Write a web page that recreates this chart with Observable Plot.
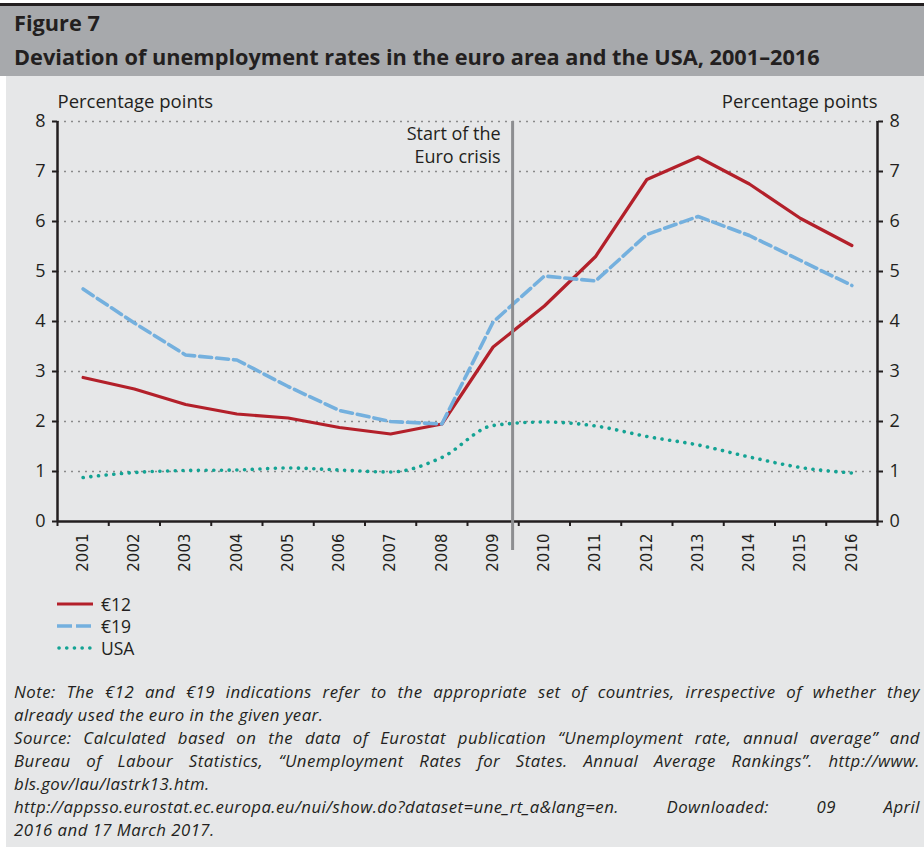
<!DOCTYPE html>
<html><head><meta charset="utf-8">
<script src="https://cdn.jsdelivr.net/npm/d3@7"></script>
<script src="https://cdn.jsdelivr.net/npm/@observablehq/plot@0.6"></script>
<style>
body{margin:0;background:#fff;width:924px;height:847px;overflow:hidden;font-family:"Open Sans",sans-serif;color:#231f20}
#hdr{position:absolute;left:0;top:3px;width:924px;height:70px;border-top:3px solid #231f20;background:#a7a9ac}
#hdr .f,#hdr .t{position:absolute;left:14px;font-weight:700;font-size:21px;white-space:nowrap;line-height:1}
#hdr .f{top:6px}
#hdr .t{top:40px}
#bg{position:absolute;left:6px;top:76px;right:0;bottom:0;background:#e6e7e8}
#chart{position:absolute;left:0;top:90px}
#legend{position:absolute;left:57px;top:593px;font-size:17.5px}
#legend .row{display:flex;align-items:center;height:22px}
#legend svg{margin-right:8px}
#note{position:absolute;left:14px;top:680px;width:906px;font-style:italic;font-size:16.8px}
#note div{height:23px;line-height:23px;white-space:nowrap}
#note span{white-space:nowrap}
</style>
</head><body>
<div id="hdr"><div class="f">Figure 7</div><div class="t">Deviation of unemployment rates in the euro area and the USA, 2001–2016</div></div>
<div id="bg"></div>
<div id="chart"></div>
<div id="legend"></div>
<div id="note">
<div class="j"><span>Note: The €12 and €19 indications refer to the appropriate set of countries, irrespective of whether they</span></div>
<div><span>already used the euro in the given year.</span></div>
<div class="j"><span>Source: Calculated based on the data of Eurostat publication “Unemployment rate, annual average” and</span></div>
<div class="j"><span>Bureau of Labour Statistics, “Unemployment Rates for States. Annual Average Rankings”. http://www.</span></div>
<div><span>bls.gov/lau/lastrk13.htm.</span></div>
<div class="j"><span>http://appsso.eurostat.ec.europa.eu/nui/show.do?dataset=une_rt_a&amp;lang=en. Downloaded: 09 April</span></div>
<div><span>2016 and 17 March 2017.</span></div>
</div>
<script>
const years = [2001,2002,2003,2004,2005,2006,2007,2008,2009,2010,2011,2012,2013,2014,2015,2016];
const euro12 = [2.88,2.65,2.34,2.15,2.07,1.88,1.75,1.95,3.49,4.31,5.30,6.84,7.29,6.75,6.06,5.52];
const euro19 = [4.65,3.97,3.33,3.23,2.70,2.22,2.00,1.95,3.99,4.91,4.81,5.74,6.10,5.72,5.22,4.72];
const usa    = [0.88,0.98,1.02,1.03,1.07,1.03,0.99,1.28,1.92,1.99,1.91,1.70,1.53,1.29,1.08,0.97];
const seriesNames = ["€12","€19","USA"];
const colors = ["#b3202a","#74b0de","#14a394"];
const yTicks = [0,1,2,3,4,5,6,7,8];
const crisisYear = [2009.38];
const crisisLabel = "Start of the\nEuro crisis";
const axisTitle = "Percentage points";

const lo = years[0]-0.5, hi = years[years.length-1]+0.5;
const bounds = d3.range(years.length+1).map(i => lo + i);
const rows = (vals, s) => years.map((y,i)=>({year:y, value:vals[i], series:s}));
const styles = [
  {stroke:colors[0], strokeWidth:3.2},
  {stroke:colors[1], strokeWidth:3.6, strokeDasharray:"12,5"},
  {stroke:colors[2], strokeWidth:3.6, strokeDasharray:"0.1,7.6", strokeLinecap:"round", curve:"monotone-x"}
];
const all = [euro12, euro19, usa];

const plot = Plot.plot({
  width: 924, height: 500,
  marginLeft: 57, marginRight: 47, marginTop: 31, marginBottom: 69,
  style: {background:"transparent", fontFamily:"'Open Sans', sans-serif", fontSize:"17px", color:"#231f20", overflow:"visible"},
  x: {type:"linear", domain:[lo, hi]},
  y: {domain:[0, 8]},
  marks: [
    Plot.ruleY(yTicks.slice(1), {x1:lo, x2:hi, stroke:"#8a8a8a", strokeWidth:1.3, strokeDasharray:"2,5"}),
    Plot.axisY({ticks:yTicks, anchor:"left", tickSize:5, tickPadding:7, label:null, strokeWidth:2, fontSize:18}),
    Plot.axisY({ticks:yTicks, anchor:"right", tickSize:5, tickPadding:7, label:null, strokeWidth:2, fontSize:18}),
    Plot.axisX({ticks:years, anchor:"bottom", tickSize:0, tickPadding:12, tickRotate:-90, tickFormat:d=>String(d), label:null, fontFamily:"DejaVu Sans", fontSize:15}),
    Plot.axisX({ticks:bounds, anchor:"bottom", tickSize:5, tickFormat:()=>"", label:null, strokeWidth:2}),
    Plot.ruleX([lo, hi], {y1:0, y2:8, stroke:"#231f20", strokeWidth:2.5}),
    Plot.ruleY([0], {x1:lo, x2:hi, stroke:"#231f20", strokeWidth:2.5}),
    ...all.map((vals,k) => Plot.line(rows(vals, seriesNames[k]), {x:"year", y:"value", ...styles[k]})),
    Plot.ruleX(crisisYear, {y1:-0.58, y2:8, stroke:"#8d8e91", strokeWidth:3}),
    Plot.text(crisisYear, {x:d=>d, y:8, text:()=>crisisLabel, textAnchor:"end", lineAnchor:"top", dx:-12, dy:3, lineHeight:1.25, fontSize:18}),
    Plot.text([axisTitle], {frameAnchor:"top-left", textAnchor:"start", lineAnchor:"middle", dy:-19, fontSize:18.5}),
    Plot.text([axisTitle], {frameAnchor:"top-right", textAnchor:"end", lineAnchor:"middle", dy:-19, fontSize:18.5})
  ]
});
document.getElementById("chart").appendChild(plot);

const leg = document.getElementById("legend");
seriesNames.forEach((name,k) => {
  const st = styles[k];
  const row = document.createElement("div");
  row.className = "row";
  row.innerHTML = `<svg width="36" height="10"><line x1="${k===2?2:0}" x2="36" y1="5" y2="5" stroke="${st.stroke}" stroke-width="${st.strokeWidth}" ${st.strokeDasharray?`stroke-dasharray="${k===1?'15,4':st.strokeDasharray}"`:""} stroke-linecap="${st.strokeLinecap||'butt'}"/></svg><span>${name}</span>`;
  leg.appendChild(row);
});

// fit header title to reference width
const t = document.querySelector("#hdr .t"), f = document.querySelector("#hdr .f");
const tw = t.getBoundingClientRect().width;
const fs = 21 * 806 / tw;
t.style.fontSize = fs + "px"; f.style.fontSize = fs + "px";

// spacing: a little letter-spacing everywhere, the rest of the justification as word-spacing
const note = document.getElementById("note");
const LS = 0.45;
note.style.letterSpacing = LS + "px";
const spans = [...note.querySelectorAll("div.j span")];
spans.forEach(s => {
  const w = s.getBoundingClientRect().width;
  const n = (s.textContent.match(/ /g) || []).length;
  if (n) s.style.wordSpacing = ((906 - w) / n) + "px";
});
</script>
</body></html>
